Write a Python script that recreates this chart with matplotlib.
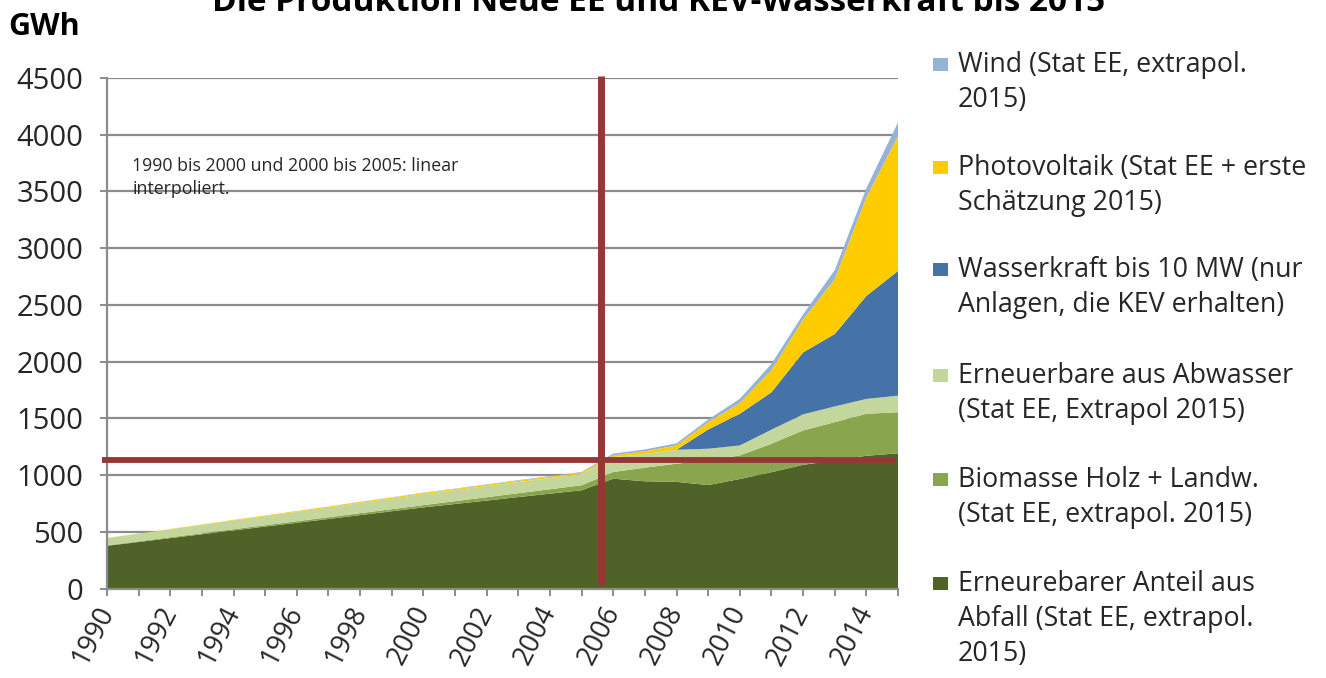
import matplotlib
matplotlib.use("Agg")
import matplotlib.pyplot as plt
from matplotlib.patches import Rectangle
from matplotlib.transforms import ScaledTranslation

# ---------------- data ----------------
years = list(range(1990, 2016))
abfall = [376, 410, 444, 478, 512, 546, 579, 613, 647, 681, 715, 745, 775, 806, 836,
          866, 968, 945, 940, 912, 965, 1025, 1090, 1130, 1170, 1192]
biomasse = [5, 6, 8, 9, 11, 12, 14, 15, 17, 18, 20, 25, 30, 34, 39,
            44, 59, 120, 160, 217, 208, 251, 303, 336, 370, 362]
abwasser = [64, 67, 70, 74, 77, 80, 83, 86, 90, 93, 96, 97, 98, 98, 99,
            100, 131, 120, 123, 103, 88, 124, 142, 139, 131, 146]
wasserkraft = [0, 0, 0, 0, 0, 0, 0, 0, 0, 0, 0, 0, 0, 0, 0,
               0, 0, 0, 0, 170, 279, 330, 546, 638, 908, 1099]
photovoltaik = [1, 2, 3, 4, 5, 6, 7, 8, 9, 10, 11, 11, 11, 12, 12,
                12, 16, 25, 38, 64, 95, 195, 290, 483, 870, 1190]
wind = [0, 0, 0, 0, 0, 0, 1, 1, 2, 2, 3, 3, 4, 5, 5,
        6, 15, 16, 19, 23, 37, 55, 45, 80, 80, 120]

series_labels = [
    "Erneurebarer Anteil aus\nAbfall (Stat EE, extrapol.\n2015)",
    "Biomasse Holz + Landw.\n(Stat EE, extrapol. 2015)",
    "Erneuerbare aus Abwasser\n(Stat EE, Extrapol 2015)",
    "Wasserkraft bis 10 MW (nur\nAnlagen, die KEV erhalten)",
    "Photovoltaik (Stat EE + erste\nSchätzung 2015)",
    "Wind (Stat EE, extrapol.\n2015)",
]
colors = ["#4F6228", "#89A54E", "#C3D69B", "#4573A7", "#FFCC00", "#95B3D7"]

yticks = [0, 500, 1000, 1500, 2000, 2500, 3000, 3500, 4000, 4500]
xtick_labels = [str(y) if y % 2 == 0 else "" for y in years]

ref_year = 2005.6      # vertical marker
ref_value = 1130       # horizontal marker

title = "Die Produktion Neue EE und KEV-Wasserkraft bis 2015"
unit = "GWh"
note = "1990 bis 2000 und 2000 bis 2005: linear\ninterpoliert."

# ---------------- figure ----------------
FONT = ["Open Sans", "DejaVu Sans"]
plt.rcParams["font.family"] = FONT

W, H = 1326, 678
fig = plt.figure(figsize=(W / 100, H / 100), dpi=100)
ax = fig.add_axes([107 / W, 1 - 588.5 / H, 791 / W, 510.5 / H])

ax.stackplot(years, abfall, biomasse, abwasser, wasserkraft, photovoltaik, wind,
             colors=colors, linewidth=0, zorder=2)

ax.set_xlim(1990, 2015)
ax.set_ylim(0, 4500)
ax.set_yticks(yticks)
ax.set_yticklabels([str(v) for v in yticks], fontsize=21, color="#262626")
ax.set_xticks(years)
ax.set_xticklabels(xtick_labels, fontsize=19.5, color="#262626", rotation=63,
                   ha="right", va="center", rotation_mode="anchor")
shift = ScaledTranslation(6 / 100, -5 / 100, fig.dpi_scale_trans)
for lbl in ax.get_xticklabels():
    lbl.set_transform(lbl.get_transform() + shift)

grid_c = "#8C8C8C"
ax.yaxis.grid(True, color=grid_c, linewidth=1.6, zorder=1)
ax.set_axisbelow(True)
for s in ["top", "right"]:
    ax.spines[s].set_visible(False)
for s in ["left", "bottom"]:
    ax.spines[s].set_color(grid_c)
    ax.spines[s].set_linewidth(1.6)
ax.tick_params(axis="both", color=grid_c, width=1.4, length=5)
ax.tick_params(axis="y", pad=12)
ax.tick_params(axis="x", pad=9)

red = "#953735"
ax.plot([ref_year, ref_year], [30, 4515], color=red, linewidth=5, zorder=5,
        solid_capstyle="butt", clip_on=False)
ax.plot([1989.85, 2014.95], [ref_value, ref_value], color=red, linewidth=4.2,
        zorder=5, solid_capstyle="butt", clip_on=False)

ax.text(1990.8, 3800, note, fontsize=12.8, color="#262626", va="top",
        ha="left", linespacing=1.3, zorder=6)

# title (cut off at top, as in the original) and unit
fig.text(659 / W, 1 - 11 / H, title, fontsize=24, fontweight="bold",
         ha="center", va="baseline", color="#000000")
fig.text(8 / W, 1 - 27 / H, unit, fontsize=22, fontweight="bold",
         ha="left", va="center", color="#000000")

# legend (reverse order, top = Wind)
first_line_y = [65, 168, 270, 376, 480, 584]
line_step = 35
for i, (lab, col) in enumerate(zip(series_labels[::-1], colors[::-1])):
    y0 = first_line_y[i]
    fig.patches.append(Rectangle((933 / W, 1 - (y0 + 6) / H), 15 / W, 13 / H,
                                 transform=fig.transFigure, facecolor=col,
                                 edgecolor="none"))
    for j, line in enumerate(lab.split("\n")):
        fig.text(958 / W, 1 - (y0 + j * line_step) / H, line, fontsize=19.3,
                 ha="left", va="center", color="#262626")

fig.savefig("out.png", dpi=100)
